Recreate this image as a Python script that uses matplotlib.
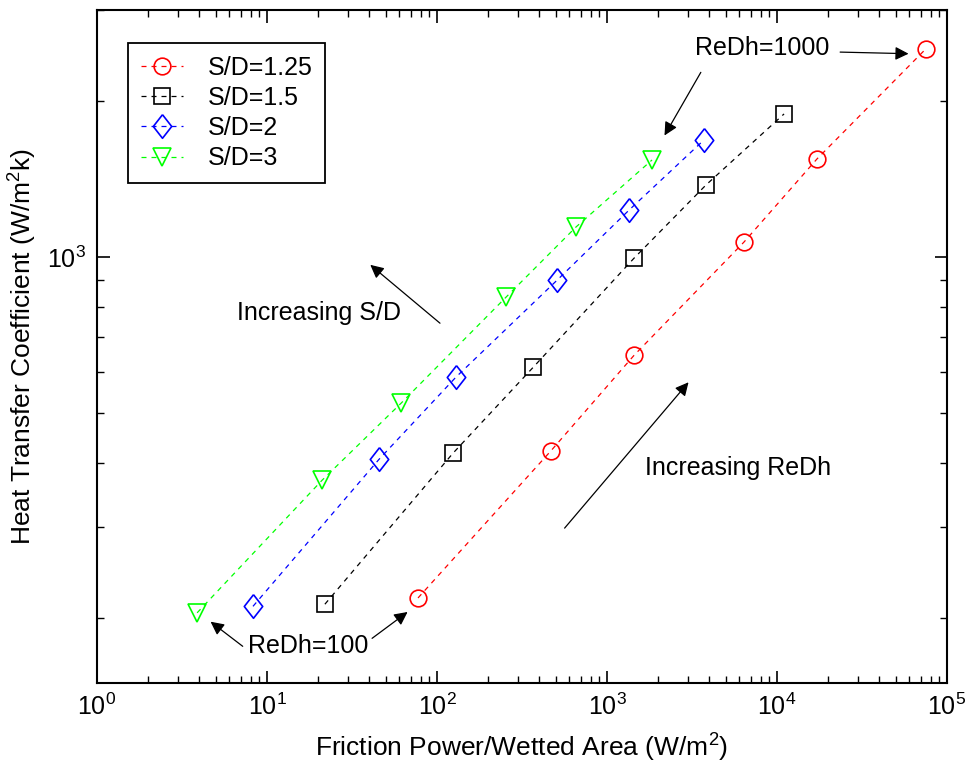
"""Heat transfer coefficient vs friction power per wetted area, log-log."""

import matplotlib

matplotlib.use("Agg")
import matplotlib.pyplot as plt
from matplotlib.ticker import LogLocator, NullFormatter

# friction power / wetted area (W/m^2) and heat transfer coefficient (W/m^2 K)
sd_labels = ["S/D=1.25", "S/D=1.5", "S/D=2", "S/D=3"]

power_sd125 = [77.3, 469, 1442, 6393, 17180, 75200]
htc_sd125 = [219, 422, 645, 1068, 1546, 2525]

power_sd15 = [21.9, 124, 367, 1442, 3822, 11000]
htc_sd15 = [213, 417, 611, 994, 1377, 1889]

power_sd2 = [8.27, 45.6, 129, 508, 1347, 3722]
htc_sd2 = [211, 406, 585, 901, 1231, 1683]

power_sd3 = [3.88, 21.1, 61.4, 255, 657, 1840]
htc_sd3 = [205, 370, 521, 836, 1142, 1539]

# MATLAB-style diamond: a bit narrower than tall
diamond = [(0, 1), (0.78, 0), (0, -1), (-0.78, 0), (0, 1)]

series = [
    (power_sd125, htc_sd125, "#ff0000", "o", 12),
    (power_sd15, htc_sd15, "#000000", "s", 11),
    (power_sd2, htc_sd2, "#0000ff", diamond, 17),
    (power_sd3, htc_sd3, "#00ff00", "v", 13),
]

FS = 18

plt.rcParams.update(
    {
        "font.family": ["Liberation Sans", "DejaVu Sans"],
        "mathtext.fontset": "custom",
        "mathtext.rm": "Liberation Sans",
        "mathtext.it": "Liberation Sans",
        "xtick.direction": "in",
        "ytick.direction": "in",
        "xtick.top": True,
        "ytick.right": True,
    }
)

fig = plt.figure(figsize=(9.73, 7.72), dpi=100)
ax = fig.add_axes([0.0997, 0.1153, 0.8736, 0.8717])

for (xs, ys, color, marker, ms), label in zip(series, sd_labels):
    ax.plot(
        xs,
        ys,
        linestyle=(0, (4, 4)),
        linewidth=0.9,
        color=color,
        marker=marker,
        markersize=ms,
        markerfacecolor="none",
        markeredgecolor=color,
        markeredgewidth=1.2,
        label=label,
    )

ax.set_xscale("log")
ax.set_yscale("log")
ax.set_xlim(1, 1e5)
ax.set_ylim(150, 3000)
ax.xaxis.set_major_locator(LogLocator(base=10, numticks=10))
ax.xaxis.set_minor_locator(LogLocator(base=10, subs=range(2, 10), numticks=20))
ax.yaxis.set_minor_locator(LogLocator(base=10, subs=range(2, 10), numticks=20))
ax.xaxis.set_minor_formatter(NullFormatter())
ax.yaxis.set_minor_formatter(NullFormatter())
ax.tick_params(which="major", length=9, width=1.2, labelsize=FS, pad=8)
ax.tick_params(which="minor", length=5, width=1.0)
for spine in ax.spines.values():
    spine.set_linewidth(1.5)

ax.set_xlabel("Friction Power/Wetted Area (W/m$^2$)", fontsize=19, labelpad=8)
ax.set_ylabel("Heat Transfer Coefficient (W/m$^2$k)", fontsize=19, labelpad=6)

leg = ax.legend(
    loc="upper left",
    bbox_to_anchor=(0.0365, 0.951),
    borderaxespad=0,
    fontsize=FS,
    fancybox=False,
    edgecolor="black",
    framealpha=1,
    handlelength=1.7,
    handletextpad=1.0,
    labelspacing=0.25,
    borderpad=0.5,
)
leg.get_frame().set_linewidth(1.3)

arrow = dict(arrowstyle="-|>", color="black", lw=0.9, mutation_scale=20)
tf = ax.transAxes

ax.text(0.782, 0.9435, "ReDh=1000", transform=tf, ha="center", va="center", fontsize=FS)
ax.annotate("", xy=(0.958, 0.935), xytext=(0.871, 0.9376), xycoords=tf, textcoords=tf, arrowprops=arrow)
ax.annotate("", xy=(0.666, 0.810), xytext=(0.712, 0.911), xycoords=tf, textcoords=tf, arrowprops=arrow)

ax.text(0.249, 0.055, "ReDh=100", transform=tf, ha="center", va="center", fontsize=FS)
ax.annotate("", xy=(0.131, 0.0936), xytext=(0.174, 0.052), xycoords=tf, textcoords=tf, arrowprops=arrow)
ax.annotate("", xy=(0.368, 0.108), xytext=(0.321, 0.0639), xycoords=tf, textcoords=tf, arrowprops=arrow)

ax.text(0.165, 0.550, "Increasing S/D", transform=tf, ha="left", va="center", fontsize=FS)
ax.annotate("", xy=(0.319, 0.624), xytext=(0.406, 0.532), xycoords=tf, textcoords=tf, arrowprops=arrow)

ax.text(0.645, 0.3195, "Increasing ReDh", transform=tf, ha="left", va="center", fontsize=FS)
ax.annotate("", xy=(0.698, 0.450), xytext=(0.548, 0.227), xycoords=tf, textcoords=tf, arrowprops=arrow)

fig.savefig("out.png", dpi=100)
plt.close(fig)
